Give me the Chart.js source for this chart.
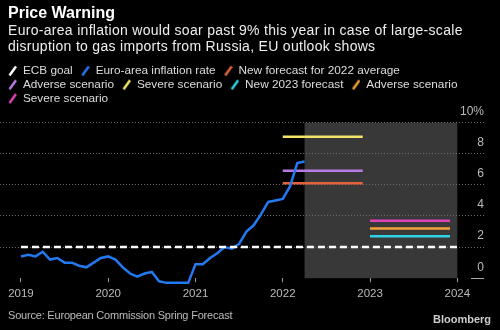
<!DOCTYPE html>
<html>
<head>
<meta charset="utf-8">
<script src="https://cdn.jsdelivr.net/npm/chart.js@4.4.1/dist/chart.umd.min.js"></script>
<style>
  html, body { margin: 0; padding: 0; background: #000; }
  #wrap { position: relative; width: 500px; height: 330px; overflow: hidden; font-family: "Liberation Sans", Arial, sans-serif; }
  #chart { position: absolute; left: 0; top: 0; }
  .title { position: absolute; left: 8px; top: 5px; font-size: 16px; line-height: 16px; font-weight: bold; color: #fff; }
  .subtitle { position: absolute; left: 8px; top: 22px; width: 480px; font-size: 14px; line-height: 16px; letter-spacing: 0.3px; color: #eee; }
  .source { position: absolute; left: 8px; top: 308px; font-size: 11px; line-height: 14px; letter-spacing: -0.2px; color: #bbb; }
  .brand { position: absolute; right: 9px; top: 312px; font-size: 11px; line-height: 14px; font-weight: bold; color: #ccc; }
</style>
</head>
<body>
<div id="wrap">
  <canvas id="chart" width="500" height="330"></canvas>
  <div class="title">Price Warning</div>
  <div class="subtitle">Euro-area inflation would soar past 9% this year in case of large-scale<br>disruption to gas imports from Russia, EU outlook shows</div>
  <div class="source">Source: European Commission Spring Forecast</div>
  <div class="brand">Bloomberg</div>
</div>
<script>
// monthly euro-area HICP, Jan 2019 .. Apr 2022
const FIRST_YEAR = 2019;
const INFLATION = [
  1.4, 1.5, 1.4, 1.7, 1.2, 1.3, 1.0, 1.0, 0.8, 0.7, 1.0, 1.3,
  1.4, 1.2, 0.7, 0.3, 0.1, 0.3, 0.4, -0.2, -0.3, -0.3, -0.3, -0.3,
  0.9, 0.9, 1.3, 1.6, 2.0, 1.9, 2.2, 3.0, 3.4, 4.1, 4.9, 5.0,
  5.1, 5.9, 7.4, 7.5
];
const ECB_GOAL = 2;
const GOAL_YEARS = [2019, 2024];

// forecasts (annual averages)
const FORECAST_2022 = { base: 6.1, adverse: 6.9, severe: 9.1 };
const FORECAST_2023 = { base: 2.7, adverse: 3.2, severe: 3.7 };

const YEARS = [2019, 2020, 2021, 2022, 2023, 2024];
const Y_TICKS = [0, 2, 4, 6, 8, 10];
const SHADE_FROM = 2022.25; // forecast period
const SHADE_TO = 2024;

const FONT = "'Liberation Sans', Arial, sans-serif";

const monthX = i => FIRST_YEAR + i / 12;
const yearLine = (year, value) => [{ x: year, y: value }, { x: year + 11 / 12, y: value }];

// little diagonal mark used in the legend
function slash(color) {
  const c = document.createElement("canvas");
  c.width = 15;
  c.height = 12;
  const g = c.getContext("2d");
  g.strokeStyle = color;
  g.lineWidth = 2.5;
  g.beginPath();
  g.moveTo(7.5, 10.5);
  g.lineTo(14, 1.5);
  g.stroke();
  return c;
}

const shade = {
  id: "shade",
  beforeDraw(chart) {
    const { ctx, scales: { x, y } } = chart;
    const x0 = x.getPixelForValue(SHADE_FROM);
    const x1 = x.getPixelForValue(SHADE_TO);
    const y0 = y.getPixelForValue(10);
    const y1 = y.getPixelForValue(0);
    ctx.save();
    ctx.fillStyle = "#383838";
    ctx.fillRect(x0, y0, x1 - x0, y1 - y0);
    ctx.restore();
  },
  afterDraw(chart) {
    const { ctx, chartArea, scales: { y } } = chart;
    const y0 = Math.round(y.getPixelForValue(0)) + 0.5;
    ctx.save();
    ctx.strokeStyle = "#aaa";
    ctx.lineWidth = 1;
    ctx.beginPath();
    ctx.moveTo(chartArea.right - 13, y0);
    ctx.lineTo(chartArea.right, y0);
    ctx.stroke();
    ctx.restore();
  }
};

function line(label, data, color, extra) {
  return Object.assign({ label, data, borderColor: color, backgroundColor: color, borderWidth: 2.5, pointRadius: 0 }, extra || {});
}

new Chart(document.getElementById("chart"), {
  type: "line",
  data: {
    datasets: [
      line("ECB goal", GOAL_YEARS.map(x => ({ x, y: ECB_GOAL })), "#ffffff", { borderDash: [7, 4] }),
      line("Euro-area inflation rate", INFLATION.map((v, i) => ({ x: monthX(i), y: v })), "#2279f0"),
      line("New forecast for 2022 average", yearLine(2022, FORECAST_2022.base), "#e5633b"),
      line("Adverse scenario", yearLine(2022, FORECAST_2022.adverse), "#b97ae6"),
      line("Severe scenario", yearLine(2022, FORECAST_2022.severe), "#f3e46a"),
      line("New 2023 forecast", yearLine(2023, FORECAST_2023.base), "#2fd3e6"),
      line("Adverse scenario", yearLine(2023, FORECAST_2023.adverse), "#f3a23b"),
      line("Severe scenario", yearLine(2023, FORECAST_2023.severe), "#e043b6")
    ]
  },
  options: {
    responsive: false,
    animation: false,
    clip: false,
    layout: { padding: { top: 63, left: 0, right: 16, bottom: 24 } },
    plugins: {
      tooltip: { enabled: false },
      legend: {
        align: "start",
        labels: {
          usePointStyle: true,
          pointStyleWidth: 15,
          boxHeight: 12,
          padding: 2,
          color: "#ddd",
          font: { family: FONT, size: 11.8 },
          generateLabels(chart) {
            const items = Chart.defaults.plugins.legend.labels.generateLabels(chart);
            items.forEach(it => { it.pointStyle = slash(chart.data.datasets[it.datasetIndex].borderColor); });
            return items;
          }
        }
      }
    },
    scales: {
      x: {
        type: "linear",
        min: 2018.76,
        max: 2024.306,
        afterBuildTicks: s => { s.ticks = YEARS.map(v => ({ value: v })); },
        ticks: { color: "#bbb", font: { family: FONT, size: 11.5 }, padding: 5, callback: v => String(v) },
        grid: { drawOnChartArea: false, tickLength: 4, color: "#999" },
        border: { display: false }
      },
      y: {
        position: "right",
        min: 0,
        max: 10.53,
        afterBuildTicks: s => { s.ticks = Y_TICKS.map(v => ({ value: v })); },
        ticks: {
          mirror: true,
          padding: 0,
          labelOffset: -11,
          color: "#bbb",
          font: { family: FONT, size: 12 },
          callback: v => v === 10 ? "10%" : String(v)
        },
        grid: {
          drawTicks: false,
          color: c => (c.tick && c.tick.value === 0) ? "rgba(0,0,0,0)" : "#6c6c6c"
        },
        border: { display: false, dash: [1, 2] }
      }
    }
  },
  plugins: [shade]
});
</script>
</body>
</html>
